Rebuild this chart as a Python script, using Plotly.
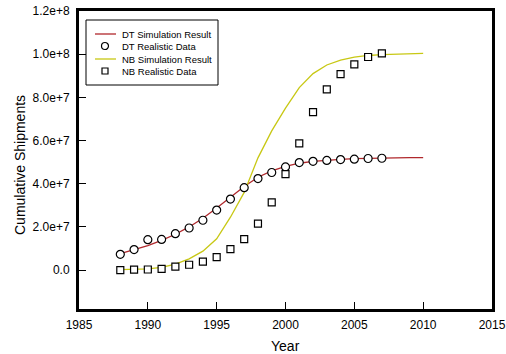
import plotly.graph_objects as go

years_data = list(range(1988, 2008))
dt_data = [7.3e6, 9.5e6, 1.41e7, 1.42e7, 1.69e7, 1.95e7, 2.31e7, 2.78e7, 3.29e7, 3.82e7,
           4.24e7, 4.52e7, 4.78e7, 4.98e7, 5.04e7, 5.08e7, 5.12e7, 5.14e7, 5.17e7, 5.18e7]
nb_data = [0.0, 2e5, 3e5, 6e5, 1.6e6, 2.5e6, 3.9e6, 6.0e6, 9.7e6, 1.44e7,
           2.15e7, 3.14e7, 4.45e7, 5.87e7, 7.32e7, 8.37e7, 9.08e7, 9.53e7, 9.87e7, 1.004e8]

years_sim = list(range(1988, 2011))
dt_sim = [7.6e6, 9.4e6, 1.14e7, 1.38e7, 1.66e7, 2.0e7, 2.4e7, 2.88e7, 3.38e7, 3.87e7,
          4.3e7, 4.6e7, 4.8e7, 4.95e7, 5.04e7, 5.1e7, 5.13e7, 5.16e7, 5.18e7, 5.19e7,
          5.2e7, 5.21e7, 5.21e7]
nb_sim = [2e5, 3e5, 6e5, 1.3e6, 2.8e6, 5.2e6, 8.8e6, 1.45e7, 2.45e7, 3.6e7,
          5.2e7, 6.45e7, 7.5e7, 8.45e7, 9.1e7, 9.5e7, 9.73e7, 9.86e7, 9.94e7, 9.98e7,
          1.0e8, 1.003e8, 1.004e8]

y_tickvals = [0, 2e7, 4e7, 6e7, 8e7, 1e8, 1.2e8]
y_ticktext = ["0.0", "2.0e+7", "4.0e+7", "6.0e+7", "8.0e+7", "1.0e+8", "1.2e+8"]
x_tickvals = [1985, 1990, 1995, 2000, 2005, 2010, 2015]

legend_names = ["DT Simulation Result", "DT Realistic Data",
                "NB Simulation Result", "NB Realistic Data"]

RED = "#b0282c"
YEL = "#c8c814"
FONT = "Liberation Sans, Arial, sans-serif"

W, H = 506, 354
ML, MR, MT, MB = 79, 14, 11, 45
PW, PH = W - ML - MR, H - MT - MB


def px(xp):
    return (xp - ML) / PW


def py(yp):
    return (H - MB - yp) / PH


fig = go.Figure()
fig.add_trace(go.Scatter(x=years_sim, y=dt_sim, mode="lines", name=legend_names[0],
                         line=dict(color=RED, width=1.3)))
fig.add_trace(go.Scatter(x=years_sim, y=nb_sim, mode="lines", name=legend_names[2],
                         line=dict(color=YEL, width=1.3)))
fig.add_trace(go.Scatter(x=years_data, y=dt_data, mode="markers", name=legend_names[1],
                         marker=dict(symbol="circle", size=8, color="white",
                                     line=dict(color="black", width=1.2))))
fig.add_trace(go.Scatter(x=years_data, y=nb_data, mode="markers", name=legend_names[3],
                         marker=dict(symbol="square", size=7, color="white",
                                     line=dict(color="black", width=1.2))))

# custom legend (compact spacing like the reference)
shapes = [dict(type="rect", xref="paper", yref="paper", x0=px(86), x1=px(218),
               y0=py(85), y1=py(20), line=dict(color="black", width=1),
               fillcolor="white", layer="above")]
annotations = []
entry_y = [34, 46, 59, 71]
for i, name in enumerate(legend_names):
    yy = py(entry_y[i])
    if i in (0, 2):
        shapes.append(dict(type="line", xref="paper", yref="paper", x0=px(95), x1=px(116),
                           y0=yy, y1=yy, line=dict(color=RED if i == 0 else YEL, width=1.3),
                           layer="above"))
    else:
        shapes.append(dict(type="circle" if i == 1 else "rect", xref="paper", yref="paper",
                           xsizemode="pixel", ysizemode="pixel",
                           xanchor=px(105), yanchor=yy,
                           x0=-3.5 if i == 1 else -3, x1=3.5 if i == 1 else 3,
                           y0=-3.5 if i == 1 else -3, y1=3.5 if i == 1 else 3,
                           line=dict(color="black", width=1.2), fillcolor="white",
                           layer="above"))
    annotations.append(dict(text=name, xref="paper", yref="paper", x=px(120), y=yy,
                            xanchor="left", yanchor="middle", showarrow=False,
                            font=dict(size=9.5, family=FONT, color="black")))

annotations.append(dict(text="Year", xref="paper", yref="paper", x=0.5, y=py(346),
                        xanchor="center", yanchor="middle", showarrow=False,
                        font=dict(size=14, family=FONT, color="black")))
annotations.append(dict(text="Cumulative Shipments", xref="paper", yref="paper",
                        x=px(20), y=py(165), xanchor="center", yanchor="middle",
                        textangle=-90, showarrow=False,
                        font=dict(size=14, family=FONT, color="black")))

fig.update_layout(
    width=W, height=H,
    margin=dict(l=ML, r=MR, t=MT, b=MB, autoexpand=False),
    paper_bgcolor="white", plot_bgcolor="white",
    font=dict(family=FONT, color="black", size=12),
    showlegend=False,
    hovermode=False,
    shapes=shapes,
    annotations=annotations,
    xaxis=dict(range=[1985, 2015], tickvals=x_tickvals, ticks="inside", ticklen=7,
               tickwidth=1, tickcolor="black", showgrid=False, zeroline=False,
               showline=True, linewidth=3, linecolor="black", mirror=True,
               automargin=False, ticklabelstandoff=3),
    yaxis=dict(range=[-1.8e7, 1.2e8], tickvals=y_tickvals, ticktext=y_ticktext,
               ticks="inside", ticklen=7, tickwidth=1, tickcolor="black",
               showgrid=False, zeroline=False,
               showline=True, linewidth=3, linecolor="black", mirror=True,
               automargin=False, ticklabelstandoff=4),
)

fig.write_html("out.html", config={"displayModeBar": False, "staticPlot": True},
               post_script="document.body.style.margin='0';document.body.style.overflow='hidden';")
